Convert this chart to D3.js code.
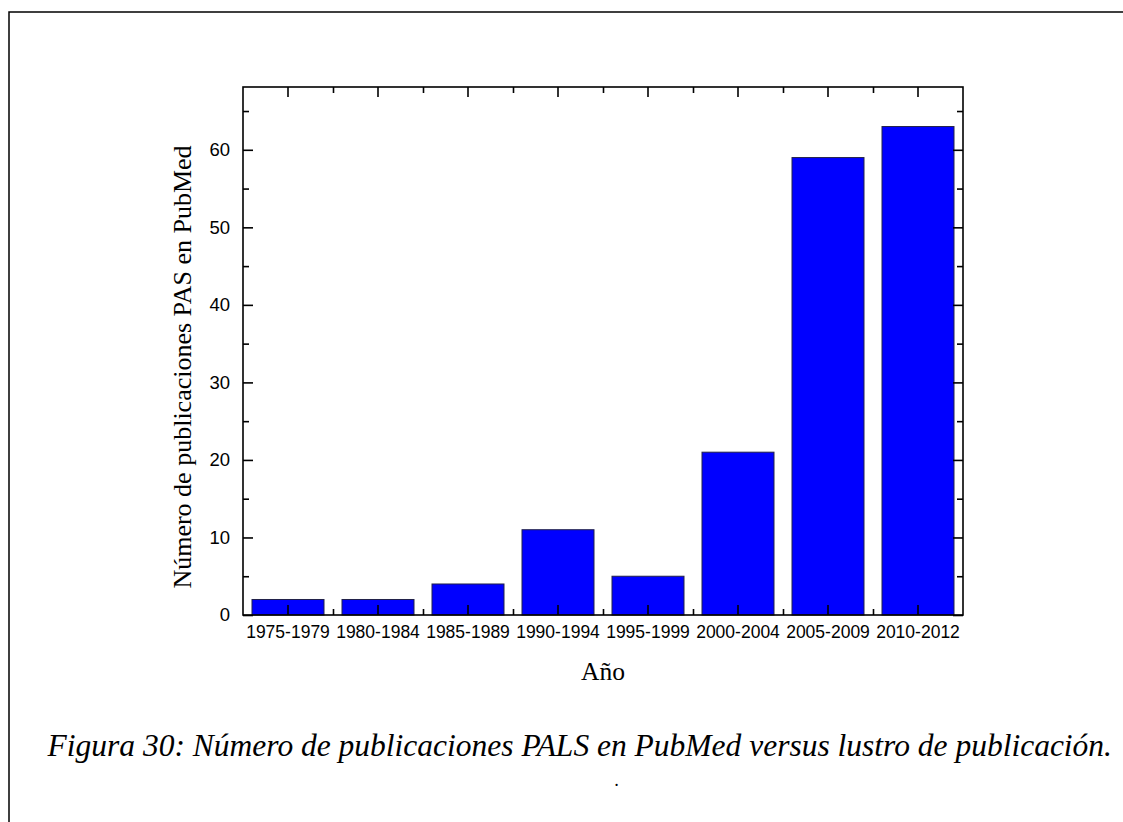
<!DOCTYPE html>
<html>
<head>
<meta charset="utf-8">
<script src="https://cdn.jsdelivr.net/npm/d3@7"></script>
<style>
  body { margin: 0; background: #fff; }
  svg { display: block; }
</style>
</head>
<body>
<script>
// data
let categories = ["1975-1979", "1980-1984", "1985-1989", "1990-1994", "1995-1999", "2000-2004", "2005-2009", "2010-2012"];
let values = [2, 2, 4, 11, 5, 21, 59, 63];
let yMajor = [0, 10, 20, 30, 40, 50, 60];
let yMinor = [5, 15, 25, 35, 45, 55, 65];

let yTitle = "Número de publicaciones PAS en PubMed";
let xTitle = "Año";
let caption = "Figura 30: Número de publicaciones PALS en PubMed versus lustro de publicación.";

let W = 1123, H = 822;
let margin = {top: 87, right: 160, bottom: 207, left: 243};
let width = W - margin.left - margin.right;
let height = H - margin.top - margin.bottom;

let root = d3.select("body").append("svg")
  .attr("width", W)
  .attr("height", H);

// page frame (runs off the right and bottom edges)
root.append("rect")
  .attr("x", 9).attr("y", 12)
  .attr("width", 1300).attr("height", 1000)
  .attr("fill", "none")
  .attr("stroke", "#000")
  .attr("stroke-width", 1.5);

let svg = root.append("g")
  .attr("transform", "translate(" + margin.left + "," + margin.top + ")");

let x = d3.scaleBand().domain(categories).range([0, width]).paddingInner(0.2).paddingOuter(0.1);
let xi = d3.scaleLinear().domain([0.5, categories.length + 0.5]).range([0, width]);
let y = d3.scaleLinear().domain([0, 68.1]).range([height, 0]);

let minorX = d3.range(1.5, categories.length, 1);

// bars
svg.selectAll("rect.bar")
  .data(values)
  .enter()
  .append("rect")
  .attr("class", "bar")
  .attr("x", function(d, i){ return x(categories[i]); })
  .attr("y", function(d){ return y(d); })
  .attr("width", x.bandwidth())
  .attr("height", function(d){ return y(0) - y(d); })
  .attr("fill", "#0000ff")
  .attr("stroke", "#22224a")
  .attr("stroke-width", 1);

function styleAxis(g) {
  g.select(".domain").remove();
  g.selectAll("line").attr("stroke", "#000").attr("stroke-width", 1.6);
  g.selectAll("text").style("font-family", "'Liberation Sans', Arial, sans-serif").style("fill", "#000");
}

// left
svg.append("g")
  .call(d3.axisLeft(y).tickValues(yMajor).tickSizeInner(-10).tickSizeOuter(0).tickPadding(13))
  .call(styleAxis)
  .selectAll("text").style("font-size", "18.5px");
svg.append("g")
  .call(d3.axisLeft(y).tickValues(yMinor).tickSize(-6).tickFormat(""))
  .call(styleAxis);

// right
svg.append("g").attr("transform", "translate(" + width + ",0)")
  .call(d3.axisRight(y).tickValues(yMajor).tickSize(-10).tickFormat(""))
  .call(styleAxis);
svg.append("g").attr("transform", "translate(" + width + ",0)")
  .call(d3.axisRight(y).tickValues(yMinor).tickSize(-6).tickFormat(""))
  .call(styleAxis);

// bottom
svg.append("g").attr("transform", "translate(0," + height + ")")
  .call(d3.axisBottom(x).tickSizeInner(-10).tickSizeOuter(0).tickPadding(11))
  .call(styleAxis)
  .selectAll("text").style("font-size", "17.5px");
svg.append("g").attr("transform", "translate(0," + height + ")")
  .call(d3.axisBottom(xi).tickValues(minorX).tickSize(-6).tickFormat(""))
  .call(styleAxis);

// top
svg.append("g")
  .call(d3.axisTop(x).tickSize(-10).tickFormat(""))
  .call(styleAxis);
svg.append("g")
  .call(d3.axisTop(xi).tickValues(minorX).tickSize(-6).tickFormat(""))
  .call(styleAxis);

// frame
svg.append("rect")
  .attr("width", width).attr("height", height)
  .attr("fill", "none")
  .attr("stroke", "#000")
  .attr("stroke-width", 1.6);

// titles
svg.append("text")
  .attr("transform", "translate(" + (191 - margin.left) + "," + (367 - margin.top) + ") rotate(-90)")
  .style("text-anchor", "middle")
  .style("font-family", "'Liberation Serif', 'Times New Roman', serif")
  .style("font-size", "26px")
  .style("fill", "#000")
  .text(yTitle);

svg.append("text")
  .attr("x", width / 2)
  .attr("y", 680 - margin.top)
  .style("text-anchor", "middle")
  .style("font-family", "'Liberation Serif', 'Times New Roman', serif")
  .style("font-size", "25.5px")
  .style("fill", "#000")
  .text(xTitle);

root.append("text")
  .attr("x", 1112)
  .attr("y", 756)
  .style("text-anchor", "end")
  .style("font-family", "'Liberation Serif', 'Times New Roman', serif")
  .style("font-style", "italic")
  .style("font-size", "31.5px")
  .style("fill", "#000")
  .text(caption);

root.append("text")
  .attr("x", 617)
  .attr("y", 786)
  .style("text-anchor", "middle")
  .style("font-family", "'Liberation Serif', 'Times New Roman', serif")
  .style("font-style", "italic")
  .style("font-size", "18px")
  .style("fill", "#000")
  .text(".");
</script>
</body>
</html>
